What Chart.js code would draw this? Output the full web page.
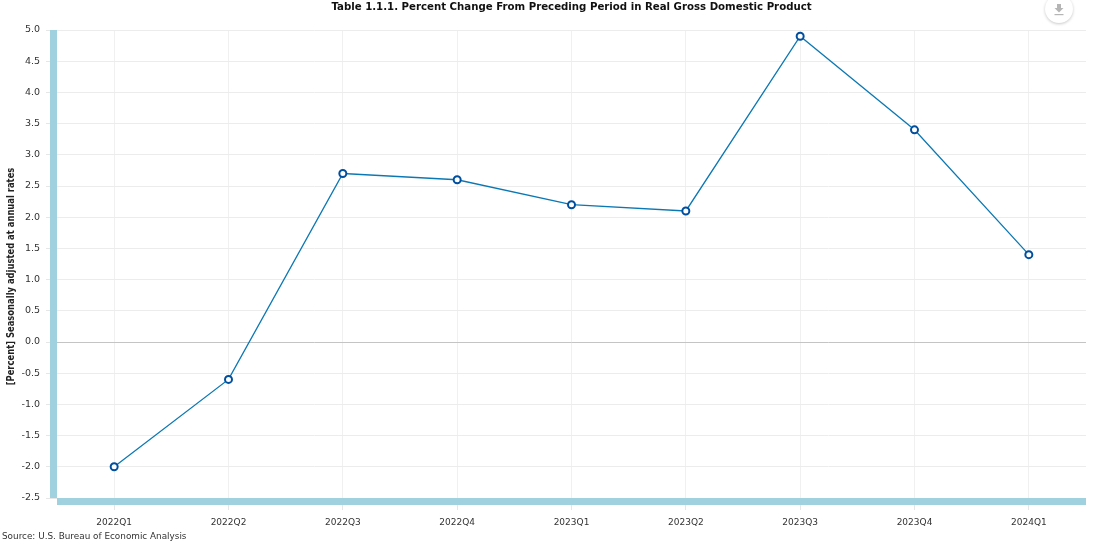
<!DOCTYPE html>
<html>
<head>
<meta charset="utf-8">
<style>
html,body{margin:0;padding:0;background:#fff;overflow:hidden}
#wrap{width:1100px;height:545px;position:relative}
canvas{display:block}
</style>
<script src="https://cdn.jsdelivr.net/npm/chart.js@4"></script>
</head>
<body>
<div id="wrap"><canvas id="c" width="1100" height="545"></canvas></div>
<script>
const categories = ["2022Q1","2022Q2","2022Q3","2022Q4","2023Q1","2023Q2","2023Q3","2023Q4","2024Q1"];
const gdpChange = [-2.0,-0.6,2.7,2.6,2.2,2.1,4.9,3.4,1.4];
const chartTitle = "Table 1.1.1. Percent Change From Preceding Period in Real Gross Domestic Product";
const yTitle = "[Percent] Seasonally adjusted at annual rates";
const sourceText = "Source: U.S. Bureau of Economic Analysis";
const FONT = '"DejaVu Sans", Verdana, sans-serif';
const BAND = "#9fd1de";

const decorations = {
  id: "decorations",
  beforeDatasetsDraw(chart) {
    const {ctx, chartArea: a} = chart;
    ctx.save();
    ctx.fillStyle = BAND;
    ctx.fillRect(a.left - 7, a.top, 7, a.bottom - a.top);
    ctx.fillRect(a.left, a.bottom, a.right - a.left, 7);
    ctx.restore();
  },
  afterDraw(chart) {
    const {ctx, chartArea: a} = chart;
    ctx.save();
    ctx.fillStyle = "#111";
    ctx.font = "bold 10.2px " + FONT;
    ctx.textAlign = "center";
    ctx.textBaseline = "middle";
    ctx.fillText(chartTitle, (a.left + a.right) / 2, 7);

    ctx.save();
    ctx.translate(11, 276.5);
    ctx.rotate(-Math.PI / 2);
    ctx.scale(0.84, 1);
    ctx.font = "bold 10px " + FONT;
    ctx.fillStyle = "#222";
    ctx.fillText(yTitle, 0, 0);
    ctx.restore();

    ctx.font = "8.85px " + FONT;
    ctx.fillStyle = "#333";
    ctx.textAlign = "left";
    ctx.fillText(sourceText, 2, 536.5);

    // download button
    const bx = 1059, by = 9, r = 14;
    ctx.save();
    ctx.shadowColor = "rgba(0,0,0,0.22)";
    ctx.shadowBlur = 3;
    ctx.shadowOffsetY = 1;
    ctx.fillStyle = "#fff";
    ctx.beginPath(); ctx.arc(bx, by, r, 0, Math.PI * 2); ctx.fill();
    ctx.restore();
    ctx.fillStyle = "#b5b5b5";
    ctx.fillRect(bx - 2, by - 5, 4, 4);
    ctx.beginPath();
    ctx.moveTo(bx - 4.5, by - 1); ctx.lineTo(bx + 4.5, by - 1); ctx.lineTo(bx, by + 3.5); ctx.closePath(); ctx.fill();
    ctx.fillRect(bx - 4.5, by + 5, 9, 1.2);
    ctx.restore();
  }
};

new Chart(document.getElementById("c"), {
  type: "line",
  data: {
    labels: categories,
    datasets: [{
      data: gdpChange,
      borderColor: "#0b78b4",
      borderWidth: 1.3,
      tension: 0,
      pointRadius: 3.5,
      pointHoverRadius: 3.5,
      pointBackgroundColor: "#ffffff",
      pointBorderColor: "#004f9f",
      pointBorderWidth: 2,
      clip: false
    }]
  },
  options: {
    responsive: false,
    animation: false,
    devicePixelRatio: 1,
    layout: {padding: {top: 30, right: 14, left: 0, bottom: 0}},
    plugins: {legend: {display: false}, tooltip: {enabled: false}, title: {display: false}},
    scales: {
      x: {
        type: "category",
        offset: true,
        afterFit(s) { s.height = 47; s.paddingLeft = 0; s.paddingRight = 0; },
        border: {display: false},
        grid: {color: "#f0f0f0", lineWidth: 1, tickLength: 12, tickColor: "#e6e6e6", offset: false},
        ticks: {color: "#333", font: {family: FONT, size: 9}, padding: 7, maxRotation: 0, autoSkip: false}
      },
      y: {
        min: -2.5,
        max: 5,
        afterFit(s) { s.width = 57; },
        border: {display: false},
        grid: {
          color: c => c.tick && c.tick.value === 0 ? "#c4c4c4" : "#ececec",
          lineWidth: 1,
          tickLength: 11,
          tickColor: "#e6e6e6"
        },
        ticks: {
          stepSize: 0.5,
          color: "#333",
          font: {family: FONT, size: 9.5},
          padding: 6,
          callback: v => v.toFixed(1)
        }
      }
    }
  },
  plugins: [decorations]
});
</script>
</body>
</html>
